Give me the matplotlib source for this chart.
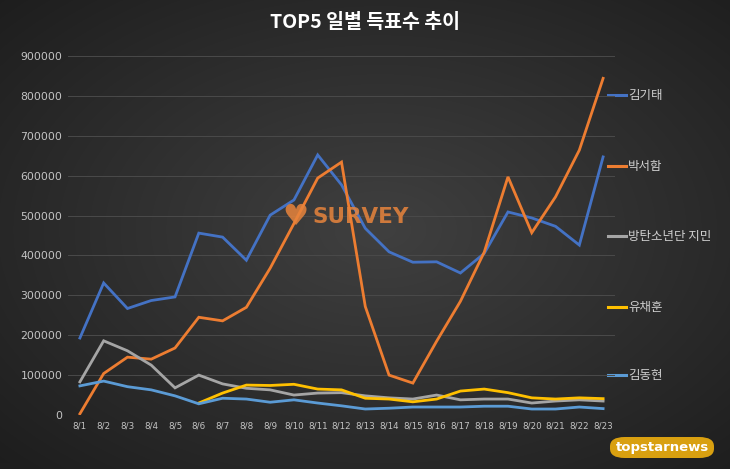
import numpy as np
import matplotlib
matplotlib.use("Agg")
import matplotlib.pyplot as plt
from matplotlib.patches import FancyBboxPatch

plt.rcParams['font.family'] = ['Noto Sans CJK KR', 'DejaVu Sans']

dates = [f"8/{d}" for d in range(1, 24)]
kim_gitae = [193000, 331000, 267000, 287000, 296000, 456000, 446000, 388000, 501000, 539000,
             652000, 577000, 468000, 409000, 383000, 384000, 356000, 405000, 509000, 494000,
             473000, 426000, 647000]
park_seoham = [3000, 104000, 145000, 140000, 168000, 245000, 236000, 270000, 368000, 480000,
               594000, 634000, 272000, 100000, 80000, 185000, 285000, 408000, 597000, 457000,
               547000, 664000, 844000]
jimin = [83000, 186000, 161000, 125000, 68000, 100000, 78000, 67000, 63000, 50000,
         55000, 56000, 48000, 43000, 40000, 50000, 38000, 40000, 40000, 30000,
         35000, 38000, 35000]
yoo_chaehoon = [None, None, None, None, None, 30000, 55000, 75000, 74000, 77000,
                65000, 63000, 42000, 40000, 33000, 40000, 60000, 65000, 56000, 43000,
                40000, 43000, 41000]
kim_donghyun = [73000, 85000, 71000, 63000, 48000, 28000, 42000, 40000, 32000, 38000,
                30000, 23000, 15000, 17000, 20000, 20000, 20000, 22000, 22000, 15000,
                15000, 20000, 16000]
names = ["김기태", "박서함", "방탄소년단 지민", "유채훈", "김동현"]
yticks = list(range(0, 900001, 100000))

series = [kim_gitae, park_seoham, jimin, yoo_chaehoon, kim_donghyun]
colors = ["#4472C4", "#ED7D31", "#A5A5A5", "#FFC000", "#5B9BD5"]

W, H = 730, 469
fig = plt.figure(figsize=(W / 100, H / 100), dpi=100)

# background gradient
bg = fig.add_axes([0, 0, 1, 1])
yy, xx = np.mgrid[0:H, 0:W]
r = np.sqrt(((xx - 380) / 520) ** 2 + ((yy - 230) / 330) ** 2)
r = np.clip(r, 0, 1)
c0 = np.array([0x40, 0x40, 0x40]) / 255
c1 = np.array([0x1e, 0x1e, 0x1e]) / 255
img = c0[None, None, :] * (1 - r[..., None]) + c1[None, None, :] * r[..., None]
bg.imshow(img, aspect='auto', extent=[0, 1, 0, 1], zorder=0)
bg.set_xlim(0, 1)
bg.set_ylim(0, 1)
bg.axis('off')

ax = fig.add_axes([68 / W, 1 - 415 / H, (615 - 68) / W, (415 - 56) / H])
ax.patch.set_alpha(0)
x = np.arange(len(dates))
for s, c in zip(series, colors):
    vals = np.array([np.nan if v is None else v for v in s], dtype=float)
    ax.plot(x, vals, color=c, lw=2.0, solid_joinstyle='miter', zorder=3)

ax.set_xlim(-0.5, len(dates) - 0.5)
ax.set_ylim(0, 900000)
ax.set_yticks(yticks)
ax.set_yticklabels([str(v) for v in yticks], color="#c4c4c4", fontsize=7.8, family='DejaVu Sans')
ax.set_xticks(x)
ax.set_xticklabels(dates, color="#c4c4c4", fontsize=6.3, family='DejaVu Sans')
ax.tick_params(length=0, pad=4)
ax.tick_params(axis='x', pad=5)
for sp in ax.spines.values():
    sp.set_visible(False)
ax.grid(axis='y', color="#4a4a4a", lw=0.7, zorder=0)
ax.set_axisbelow(True)

# title
fig.text(365 / W, 1 - 22 / H, "TOP5 일별 득표수 추이", ha='center', va='center',
         color='white', fontsize=14, fontweight='bold')

# legend labels on the right
label_y = [95, 166, 236, 307, 375]
for n, c, ly in zip(names, colors, label_y):
    fy = 1 - ly / H
    bg.plot([608 / W, 626 / W], [fy, fy], color=c, lw=2.2, zorder=5)
    fig.text(628 / W, fy, n, ha='left', va='center', color="#cfcfcf", fontsize=9)

# watermark SURVEY
fig.text(282 / W, 1 - 217 / H, "♥", ha='left', va='center', color="#E8843C",
         fontsize=21, alpha=0.85, family='DejaVu Sans')
fig.text(313 / W, 1 - 217 / H, "SURVEY", ha='left', va='center', color="#E8843C",
         fontsize=15.5, fontweight='bold', alpha=0.85, family='DejaVu Sans')

# topstarnews logo
logo = FancyBboxPatch((610 / W, 1 - 458 / H), 104 / W, 21 / H,
                      boxstyle="round,pad=0,rounding_size=0.02",
                      transform=fig.transFigure, facecolor="#D9A010",
                      edgecolor='none', zorder=6)
fig.patches.append(logo)
fig.text(662 / W, 1 - 447.5 / H, "topstarnews", ha='center', va='center', color='white',
         fontsize=9.5, fontweight='bold', family='DejaVu Sans', zorder=7)

fig.savefig("out.png", dpi=100)
